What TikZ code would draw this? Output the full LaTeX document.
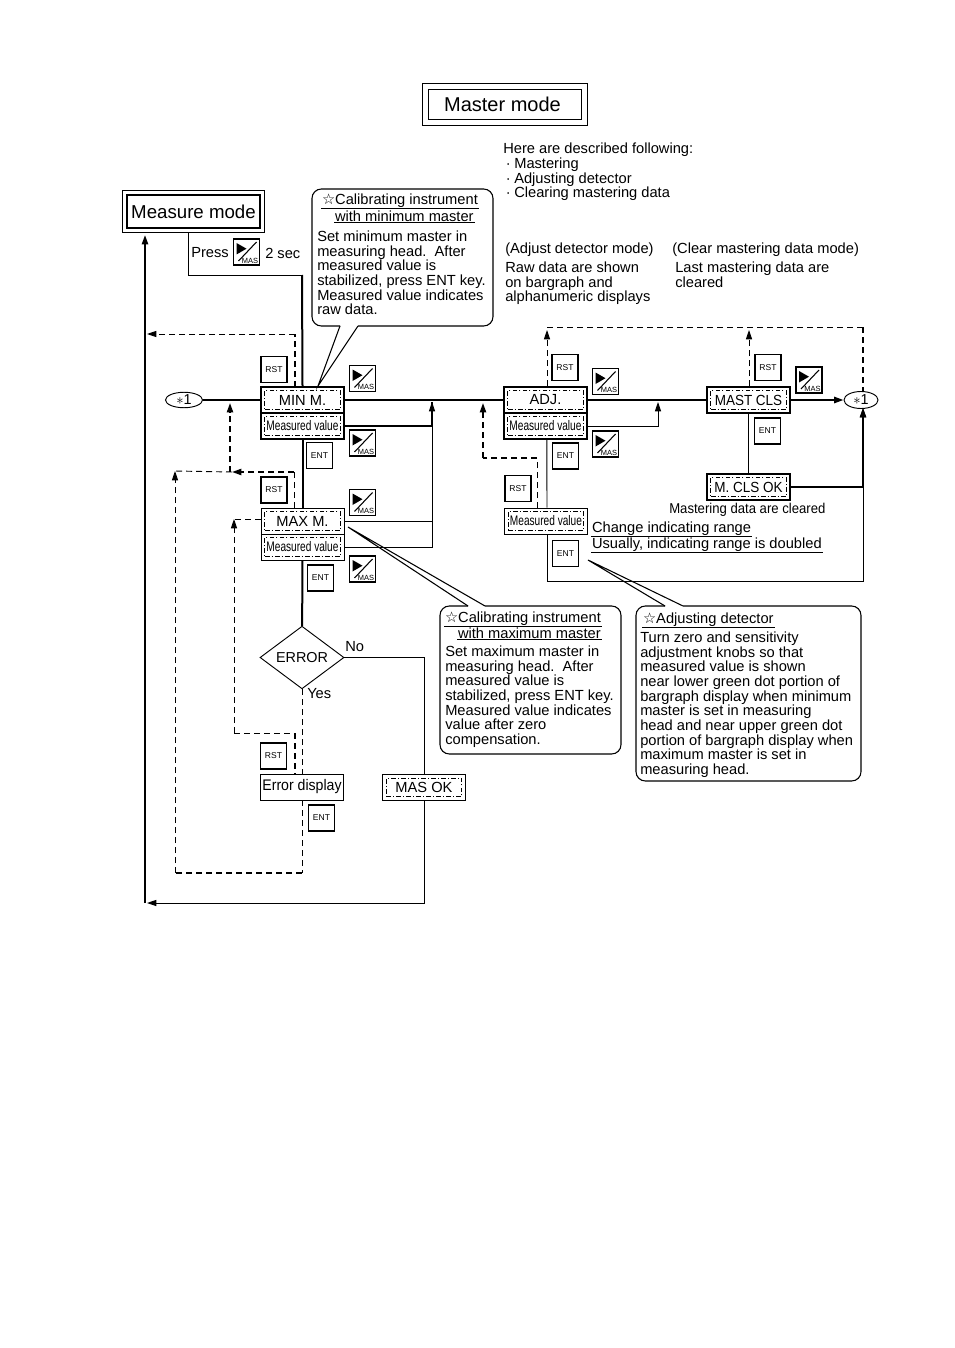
\documentclass[tikz,border=0pt]{standalone}
\usepackage{fontspec}
\setmainfont{Liberation Sans}
\newfontfamily\narrowfont[FakeStretch=0.73]{Liberation Sans}
\newfontfamily\semifont[FakeStretch=0.92]{Liberation Sans}
\newfontfamily\symfont{DejaVu Sans}
\usetikzlibrary{arrows.meta,shapes.geometric}
\tikzset{
  >={Triangle[length=7pt,width=4.6pt]},
  thinl/.style={line width=0.7pt},
  thickl/.style={line width=1.5pt},
  thindash/.style={line width=0.7pt,dash pattern=on 4.5pt off 3pt},
  thickdash/.style={line width=1.3pt,dash pattern=on 4.5pt off 3pt},
  txt/.style={font=\fontsize{11pt}{11pt}\selectfont,inner sep=0pt,align=left,anchor=north west},
  heading/.style={font=\fontsize{11pt}{11pt}\selectfont,inner sep=0.6pt,anchor=west},
  stbox/.style={draw,thinl,minimum width=62.25pt,minimum height=19.5pt,inner sep=0pt},
  stthick/.style={stbox,thickl},
  inframe/.style={draw,line width=0.8pt,dash pattern=on 3.5pt off 1.6pt on 0.8pt off 1.6pt,
    minimum width=56.5pt,minimum height=14pt,inner sep=0pt,font=\fontsize{11pt}{12pt}\selectfont},
  valframe/.style={inframe,font=\narrowfont\fontsize{10.4pt}{12pt}\selectfont},
  keybox/.style={draw,line width=1pt,minimum width=19.5pt,minimum height=19.5pt,inner sep=0pt,
    font=\fontsize{6.4pt}{7pt}\selectfont},
  call/.style={line width=0.8pt}
}
\begin{document}
\begin{tikzpicture}[x=0.75pt,y=-0.75pt]
\useasboundingbox (0,0) rectangle (954,1348);
% Title and the measure mode box
\node[draw,thinl,minimum width=123.75pt,minimum height=31.5pt] (title) at (504.5,104) {};
\node[draw,thinl,minimum width=114.75pt,minimum height=22.5pt] (titlef) at (title) {};
\node[font=\fontsize{15pt}{16pt}\selectfont] (titlet) at (502.5,104) {Master mode};
\node[draw,thinl,minimum width=106.5pt,minimum height=31.5pt] (meas) at (193.5,211.5) {};
\node[draw,thickl,minimum width=99.75pt,minimum height=25pt,font=\fontsize{14pt}{15pt}\selectfont] (meast) at (meas) {Measure mode};
\node[txt] (intro) at (503,143) {Here are described following:\\
\kern2pt·\kern2.6pt Mastering\\ \kern2pt·\kern2.6pt Adjusting detector\\ \kern2pt·\kern2.6pt Clearing mastering data};
% Mode descriptions
\node[txt] (adjhead) at (505,243) {(Adjust detector mode)};
\node[txt] (adjtext) at (505,261.5) {Raw data are shown\\on bargraph and\\alphanumeric displays};
\node[txt] (clrhead) at (672,243) {(Clear mastering data mode)};
\node[txt] (clrtext) at (675,261.5) {Last mastering data are\\cleared};
\node[txt] (press) at (191,247.5) {Press};
\node[txt] (twosec) at (265,247.5) {2 sec};
\node[txt,font=\semifont\fontsize{10.7pt}{11pt}\selectfont] (cleared) at (669,502.5) {Mastering data are cleared};
\node[heading] (chgrange) at (591,528.5) {Change indicating range};
\node[heading] (usually) at (591,545) {Usually, indicating range is doubled};
\draw[thinl] (chgrange.south west) -- (chgrange.south east);
\draw[thinl] (usually.south west) -- (usually.south east);
% State boxes, thick ones then thin ones
\foreach \name/\x/\y/\txt in {minm/302.5/400/MIN M.,adj/545.5/400/ADJ.}
{
  \node[stthick] (\name) at (\x,\y) {};
  \node[inframe] (\name t) at (\name) {\txt};
}
\foreach \name/\x/\y/\txt in {mastcls/748.5/400/MAST CLS,mclsok/748.5/487/M. CLS OK}
{
  \node[stthick] (\name) at (\x,\y) {};
  \node[inframe,font=\semifont\fontsize{11pt}{12pt}\selectfont] (\name t) at (\name) {\txt};
}
\foreach \name/\x/\y in {valmin/302.5/426,valadj/545.5/426}
{
  \node[stthick] (\name) at (\x,\y) {};
  \node[valframe] (\name t) at (\name) {Measured value};
}
\node[stbox] (maxm) at (302.5,521) {};
\node[inframe] (maxmt) at (maxm) {MAX M.};
\node[stbox] (masok) at (424,787.5) {};
\node[inframe] (masokt) at (masok) {MAS OK};
\foreach \name/\x/\y in {valmax/302.5/547,valrng/546/521}
{
  \node[stbox] (\name) at (\x,\y) {};
  \node[valframe] (\name t) at (\name) {Measured value};
}
\node[stbox,font=\semifont\fontsize{11.5pt}{13pt}\selectfont] (errdisp) at (302,787) {Error display};
\node[draw,thinl,diamond,minimum width=63pt,minimum height=47pt,inner sep=0pt] (err) at (302,657.5) {};
\node[font=\fontsize{10.8pt}{12pt}\selectfont] (errt) at (err) {ERROR};
\node[txt] (no) at (345,641.5) {No};
\node[txt] (yes) at (307,688.5) {Yes};
\node[draw,thinl,ellipse,minimum width=27.75pt,minimum height=11.6pt,inner sep=0pt,font=\fontsize{10.8pt}{12pt}\selectfont] (starl) at (184,400) {$*$1};
\node[draw,thinl,ellipse,minimum width=25.5pt,minimum height=12.75pt,inner sep=0pt,font=\fontsize{10.8pt}{12pt}\selectfont] (starr) at (861,400) {$*$1};
% RST and ENT keys
\foreach \name/\x/\y in {rsta/274/369.5,rstb/274/490,rstc/273.5/756,rstd/518/488.5,rste/565/367.5,rstf/768/367.5}
  \node[keybox] (\name) at (\x,\y) {RST};
\foreach \name/\x/\y in {enta/319.5/455.5,entb/320.5/578,entc/321.5/818,entd/565.5/456,ente/565.5/553.5,entf/767.5/431}
  \node[keybox] (\name) at (\x,\y) {ENT};
% MAS keys, the triangle and the slash are drawn over the box
\foreach \name/\x/\y in {masa/362.5/378.5,masb/362.5/443,masc/362.5/502.5,masd/362.5/569,mase/605.5/381.5,masf/605.5/444,masg/809/380,mash/246.5/252}
{
  \node[keybox] (\name) at (\x,\y) {};
  \fill[shift={(\x,\y)}] (-10,-9) -- (-10,2.5) -- (0,-3.3) -- cycle;
  \draw[shift={(\x,\y)},line width=0.8pt] (10,-10) -- (-8,9);
  \node[inner sep=0pt,font=\fontsize{5.6pt}{6pt}\selectfont] (\name t) at (\x+3.5,\y+8.5) {MAS};
}
% Junctions and free ends of the connectors
\foreach \name/\x/\y in {measout/188/233,pressj/302/275,ja/432/402,jb/658/402,jc/145/235,jd/147/903,
  dsa/295/387,dsb/147/334,dsc/294/508,dsd/232/472,dse/230/403,dsf/175/471,dsg/234/519,dsp/234/733,dsh/295/774,
  dsn/175/873,dsi/483/403,dsq/483/458,dsj/537/508,dsk/547/330,dsl/749/330,dsr/547/327,dsm/863/392,dss/863/408}
  \coordinate (\name) at (\x,\y);
% Solid connectors
\draw[thinl] (measout) |- (pressj);
\draw[thickl] (pressj) -- (minm.north);
\draw[thickl,->] (jd -| jc) -- (jc);
\draw[thickl] (starl) -- (minm);
\draw[thickl] (minm) -- (adj);
\draw[thickl] (adj) -- (mastcls);
\draw[thickl,->] (mastcls) -- (starr);
\draw[thickl] (valmin) -| (ja);
\draw[thinl,->] (valmax) -| (ja);
\draw[thinl] (maxm) -- (maxm -| ja);
\draw[thinl,->] (valadj) -| (jb);
\draw[thickl] (valmin) -- (maxm);
\draw[thickl] (valmax) -- (err);
\draw[thinl] (err) -| (masok);
\draw[thinl,->] (masok) |- (jd);
\draw[thinl] ([xshift=1pt]valadj.south) -- ([xshift=0.75pt]valrng.north);
\draw[thinl,->] ([xshift=0.75pt]valrng.south) |- (863,581.5) -- (dss);
\draw[thinl] (mastcls) -- (mclsok);
\draw[thickl,->] (mclsok) -| (dss);
% Dashed connectors
\draw[thickdash] (dsa) -- (dsa |- dsb);
\draw[thindash,->] (dsa |- dsb) -- (dsb);
\draw[thindash] (dsc) -- (dsc |- dsd);
\draw[thickdash,->] (dsc |- dsd) -- (dsd);
\draw[thickdash,->] (dse |- dsd) -- (dse);
\draw[thindash] (dsd) -- (dsf);
\draw[thindash] (err) -- (errdisp);
\draw[thindash] (errdisp) -- (errdisp |- dsn);
\draw[thickdash] (errdisp |- dsn) -- (dsn);
\draw[thindash,->] (dsn) -- (dsf);
\draw[thindash] (maxm.west |- dsg) -- (dsg);
\draw[thindash,->] (dsp) -- (dsg);
\draw[thindash] (dsp) -- (dsh |- dsp);
\draw[thickdash] (dsh |- dsp) -- (dsh);
\draw[thickdash] (dsj |- dsq) -- (dsq);
\draw[thickdash,->] (dsq) -- (dsi);
\draw[thindash] (dsj) -- (dsj |- dsq);
\draw[thindash,->] (adj.north -| dsk) -- (dsk);
\draw[thindash,->] (mastcls.north -| dsl) -- (dsl);
\draw[thindash] (dsr) -- (dsm |- dsr);
\draw[thickdash] (dsm |- dsr) -- (dsm);
% Callouts
\draw[call,rounded corners=7pt] (358,326) -- (493,326) -- (493,189) -- (312,189) -- (312,326) -- (340,326);
\draw[call] (340,326) -- (318,386) -- (358,326);
\node[heading] (calaa) at (321,200.5) {{\symfont ☆}Calibrating instrument};
\node[heading] (calab) at (334,216) {with minimum master};
\draw[thinl] (calaa.south west) -- (calaa.south east);
\draw[thinl] (calab.south west) -- (calab.south east);
\node[txt] (calat) at (317,230.5) {Set minimum master in\\measuring head.\ \ After\\measured value is\\stabilized, press ENT key.\\Measured value indicates\\raw data.};
\draw[call,rounded corners=7pt] (485,606) -- (621,606) -- (621,754) -- (440,754) -- (440,606) -- (468,606);
\draw[call] (468,606) -- (348,527) -- (485,606);
\node[heading] (calba) at (444,618.5) {{\symfont ☆}Calibrating instrument};
\node[heading] (calbb) at (457,633.5) {with maximum master};
\draw[thinl] (calba.south west) -- (calba.south east);
\draw[thinl] (calbb.south west) -- (calbb.south east);
\node[txt] (calbt) at (445,645.5) {Set maximum master in\\measuring head.\ \ After\\measured value is\\stabilized, press ENT key.\\Measured value indicates\\value after zero\\compensation.};
\draw[call,rounded corners=7pt] (683,606) -- (861,606) -- (861,781) -- (636,781) -- (636,606) -- (665,606);
\draw[call] (665,606) -- (588,560) -- (683,606);
\node[heading] (calca) at (642,619.5) {{\symfont ☆}Adjusting detector};
\draw[thinl] (calca.south west) -- (calca.south east);
\node[txt] (calct) at (640,631.5) {Turn zero and sensitivity\\adjustment knobs so that\\measured value is shown\\near lower green dot portion of\\bargraph display when minimum\\master is set in measuring\\head and near upper green dot\\portion of bargraph display when\\maximum master is set in\\measuring head.};
\end{tikzpicture}
\end{document}
